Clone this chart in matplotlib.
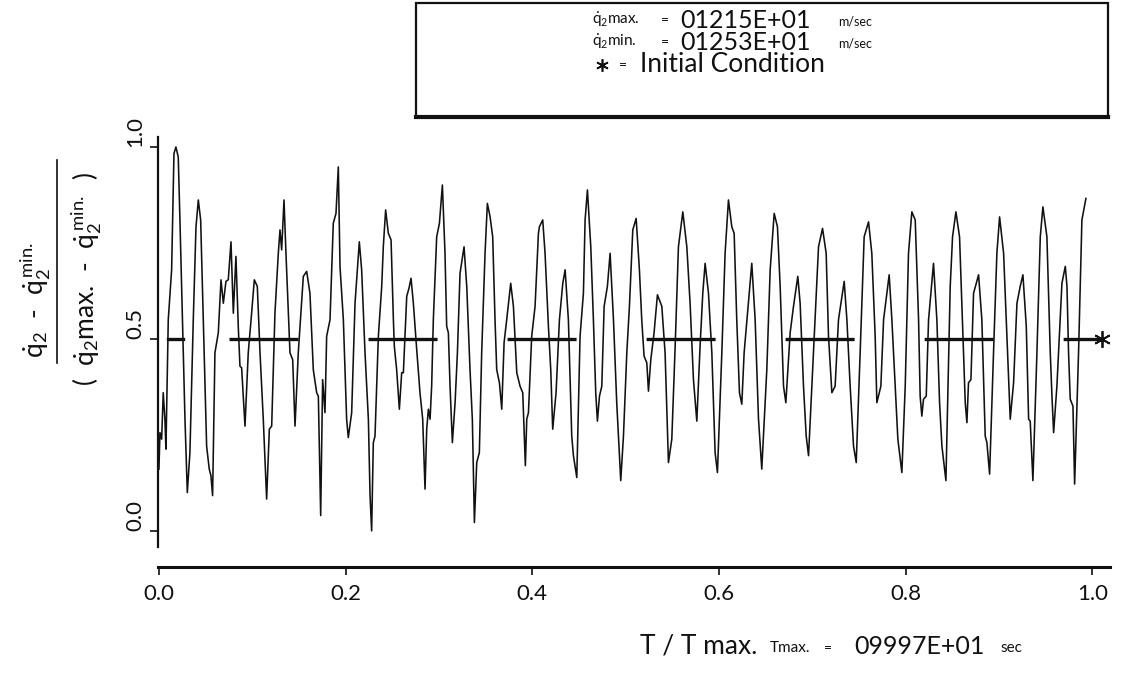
import matplotlib
matplotlib.use("Agg")
import matplotlib.pyplot as plt
from matplotlib.lines import Line2D
from matplotlib.patches import Rectangle

# ---- data: normalised velocity q2dot vs T/Tmax ----
t_norm = [
    0.0000, 0.0011, 0.0029, 0.0046, 0.0064, 0.0075, 0.0082, 0.0100, 0.0136, 0.0161,
    0.0182, 0.0207, 0.0225, 0.0261, 0.0279, 0.0304, 0.0332, 0.0368, 0.0397, 0.0422,
    0.0447, 0.0475, 0.0511, 0.0539, 0.0557, 0.0575, 0.0600, 0.0636, 0.0665, 0.0690,
    0.0718, 0.0743, 0.0772, 0.0797, 0.0825, 0.0850, 0.0868, 0.0886, 0.0922, 0.0957,
    0.0993, 0.1022, 0.1054, 0.1083, 0.1118, 0.1154, 0.1183, 0.1208, 0.1243, 0.1279,
    0.1297, 0.1315, 0.1340, 0.1361, 0.1404, 0.1433, 0.1458, 0.1493, 0.1547, 0.1583,
    0.1618, 0.1654, 0.1690, 0.1708, 0.1733, 0.1754, 0.1779, 0.1797, 0.1833, 0.1868,
    0.1897, 0.1922, 0.1940, 0.1976, 0.2011, 0.2029, 0.2065, 0.2101, 0.2147, 0.2172,
    0.2208, 0.2244, 0.2262, 0.2279, 0.2297, 0.2315, 0.2351, 0.2387, 0.2404, 0.2429,
    0.2458, 0.2487, 0.2512, 0.2522, 0.2547, 0.2576, 0.2601, 0.2619, 0.2655, 0.2680,
    0.2701, 0.2726, 0.2762, 0.2797, 0.2826, 0.2851, 0.2869, 0.2887, 0.2905, 0.2922,
    0.2940, 0.2976, 0.3005, 0.3037, 0.3065, 0.3083, 0.3101, 0.3119, 0.3144, 0.3173,
    0.3198, 0.3226, 0.3269, 0.3298, 0.3333, 0.3358, 0.3380, 0.3405, 0.3433, 0.3458,
    0.3494, 0.3519, 0.3548, 0.3576, 0.3601, 0.3619, 0.3648, 0.3673, 0.3698, 0.3726,
    0.3769, 0.3798, 0.3834, 0.3869, 0.3898, 0.3926, 0.3941, 0.3959, 0.3994, 0.4030,
    0.4066, 0.4076, 0.4112, 0.4137, 0.4173, 0.4198, 0.4219, 0.4255, 0.4291, 0.4327,
    0.4352, 0.4387, 0.4423, 0.4441, 0.4477, 0.4512, 0.4548, 0.4566, 0.4591, 0.4627,
    0.4655, 0.4680, 0.4698, 0.4720, 0.4745, 0.4770, 0.4805, 0.4834, 0.4870, 0.4905,
    0.4948, 0.4977, 0.5013, 0.5041, 0.5077, 0.5113, 0.5148, 0.5173, 0.5198, 0.5227,
    0.5245, 0.5270, 0.5305, 0.5341, 0.5388, 0.5423, 0.5459, 0.5495, 0.5531, 0.5566,
    0.5613, 0.5656, 0.5691, 0.5727, 0.5763, 0.5798, 0.5827, 0.5852, 0.5888, 0.5924,
    0.5959, 0.5984, 0.6031, 0.6066, 0.6102, 0.6138, 0.6163, 0.6191, 0.6220, 0.6245,
    0.6270, 0.6306, 0.6352, 0.6388, 0.6424, 0.6459, 0.6513, 0.6549, 0.6592, 0.6627,
    0.6656, 0.6692, 0.6717, 0.6763, 0.6799, 0.6845, 0.6870, 0.6906, 0.6935, 0.6960,
    0.7013, 0.7067, 0.7110, 0.7149, 0.7174, 0.7210, 0.7245, 0.7281, 0.7342, 0.7371,
    0.7406, 0.7442, 0.7471, 0.7513, 0.7556, 0.7603, 0.7638, 0.7674, 0.7692, 0.7735,
    0.7764, 0.7824, 0.7853, 0.7889, 0.7917, 0.7960, 0.7996, 0.8031, 0.8067, 0.8103,
    0.8139, 0.8156, 0.8174, 0.8192, 0.8221, 0.8246, 0.8299, 0.8335, 0.8364, 0.8389,
    0.8432, 0.8478, 0.8503, 0.8539, 0.8578, 0.8614, 0.8639, 0.8657, 0.8674, 0.8700,
    0.8728, 0.8757, 0.8782, 0.8817, 0.8853, 0.8871, 0.8900, 0.8942, 0.8978, 0.9007,
    0.9050, 0.9085, 0.9121, 0.9157, 0.9193, 0.9228, 0.9257, 0.9293, 0.9318, 0.9335,
    0.9364, 0.9407, 0.9443, 0.9471, 0.9514, 0.9550, 0.9568, 0.9586, 0.9621, 0.9675,
    0.9711, 0.9729, 0.9746, 0.9764, 0.9793, 0.9811, 0.9853, 0.9889, 0.9932,
]
q2dot_norm = [
    0.161, 0.256, 0.239, 0.360, 0.291, 0.213, 0.308, 0.550, 0.680, 0.983,
    1.000, 0.974, 0.810, 0.464, 0.291, 0.100, 0.204, 0.550, 0.792, 0.862,
    0.810, 0.550, 0.221, 0.161, 0.144, 0.092, 0.464, 0.516, 0.654, 0.593,
    0.650, 0.654, 0.753, 0.567, 0.715, 0.533, 0.429, 0.425, 0.273, 0.464,
    0.567, 0.654, 0.637, 0.464, 0.291, 0.083, 0.265, 0.273, 0.567, 0.723,
    0.784, 0.732, 0.862, 0.723, 0.464, 0.446, 0.273, 0.464, 0.663, 0.676,
    0.619, 0.420, 0.360, 0.351, 0.040, 0.394, 0.308, 0.507, 0.550, 0.801,
    0.827, 0.948, 0.689, 0.550, 0.291, 0.243, 0.308, 0.593, 0.753, 0.680,
    0.464, 0.291, 0.092, 0.000, 0.230, 0.247, 0.507, 0.637, 0.740, 0.836,
    0.775, 0.758, 0.550, 0.481, 0.420, 0.317, 0.412, 0.412, 0.611, 0.633,
    0.658, 0.593, 0.472, 0.360, 0.291, 0.109, 0.265, 0.317, 0.291, 0.377,
    0.550, 0.766, 0.801, 0.901, 0.723, 0.533, 0.516, 0.377, 0.230, 0.334,
    0.464, 0.671, 0.740, 0.637, 0.420, 0.291, 0.022, 0.178, 0.204, 0.464,
    0.723, 0.853, 0.818, 0.766, 0.550, 0.420, 0.386, 0.317, 0.490, 0.550,
    0.645, 0.585, 0.412, 0.377, 0.360, 0.170, 0.291, 0.308, 0.507, 0.585,
    0.775, 0.792, 0.810, 0.723, 0.533, 0.420, 0.265, 0.360, 0.550, 0.645,
    0.680, 0.550, 0.247, 0.196, 0.139, 0.507, 0.619, 0.810, 0.888, 0.740,
    0.550, 0.360, 0.286, 0.351, 0.377, 0.585, 0.637, 0.723, 0.550, 0.334,
    0.131, 0.247, 0.464, 0.585, 0.784, 0.814, 0.680, 0.550, 0.455, 0.438,
    0.364, 0.446, 0.516, 0.615, 0.585, 0.464, 0.178, 0.239, 0.481, 0.740,
    0.831, 0.740, 0.593, 0.394, 0.286, 0.481, 0.619, 0.697, 0.619, 0.464,
    0.204, 0.152, 0.464, 0.723, 0.862, 0.792, 0.775, 0.550, 0.360, 0.330,
    0.464, 0.567, 0.697, 0.550, 0.291, 0.161, 0.420, 0.680, 0.827, 0.792,
    0.637, 0.377, 0.334, 0.516, 0.585, 0.663, 0.593, 0.377, 0.247, 0.196,
    0.464, 0.740, 0.788, 0.723, 0.507, 0.360, 0.377, 0.550, 0.650, 0.550,
    0.377, 0.221, 0.178, 0.464, 0.766, 0.805, 0.723, 0.507, 0.334, 0.377,
    0.550, 0.667, 0.550, 0.377, 0.239, 0.152, 0.377, 0.723, 0.831, 0.810,
    0.550, 0.351, 0.299, 0.343, 0.351, 0.550, 0.697, 0.550, 0.334, 0.221,
    0.131, 0.637, 0.766, 0.831, 0.766, 0.507, 0.334, 0.282, 0.386, 0.394,
    0.619, 0.645, 0.667, 0.550, 0.247, 0.230, 0.148, 0.464, 0.723, 0.818,
    0.723, 0.507, 0.291, 0.386, 0.593, 0.637, 0.667, 0.533, 0.291, 0.286,
    0.131, 0.464, 0.766, 0.844, 0.766, 0.464, 0.351, 0.256, 0.377, 0.645,
    0.689, 0.637, 0.464, 0.343, 0.325, 0.122, 0.464, 0.810, 0.866,
]

# initial condition (normalised) and the reference level drawn through it
init_t = 1.01
init_v = 0.5
ref_start = 0.0
ref_stub = (0.010, 0.026)

x_ticks = [0.0, 0.2, 0.4, 0.6, 0.8, 1.0]
x_ticklabels = ["0.0", "0.2", "0.4", "0.6", "0.8", "1.0"]
y_ticks = [0.0, 0.5, 1.0]
y_ticklabels = ["0.0", "0.5", "1.0"]

q2max_txt = "01215E+01"
q2min_txt = "01253E+01"
tmax_txt = "09997E+01"

# ---- styling ----
FONT = "Lato"
plt.rcParams["font.family"] = [FONT, "DejaVu Sans"]
plt.rcParams["font.weight"] = "normal"
plt.rcParams["mathtext.fontset"] = "custom"
plt.rcParams["mathtext.rm"] = "Lato"
plt.rcParams["mathtext.it"] = "Lato"
plt.rcParams["lines.scale_dashes"] = False
INK = "#111111"

W, H = 1121, 678
fig = plt.figure(figsize=(W / 100, H / 100), dpi=100)


def fxy(x, y):
    """pixel position (from top-left) -> figure fraction"""
    return x / W, 1 - y / H


ax_left, ax_right, ax_top, ax_bottom = 158, 1110, 137, 567
ax = fig.add_axes([ax_left / W, 1 - ax_bottom / H,
                   (ax_right - ax_left) / W, (ax_bottom - ax_top) / H])
ax.set_xlim(-0.001, 1.019)
ax.set_ylim(-0.094, 1.026)

ax.plot(t_norm, q2dot_norm, color=INK, lw=1.15, solid_joinstyle="round")
ax.plot([ref_start, init_t], [init_v, init_v], color=INK, lw=2.4,
        linestyle=(49.7, (49.7, 50.4)), solid_capstyle="butt")
ax.plot(list(ref_stub), [init_v, init_v], color=INK, lw=2.4)
ax.plot([init_t], [init_v], marker=(6, 2, 0), ms=12, mew=1.3, color=INK,
        clip_on=False)

for side in ("top", "right"):
    ax.spines[side].set_visible(False)
ax.spines["left"].set_bounds(-0.042, 1.026)
ax.spines["left"].set_linewidth(1.6)
ax.spines["bottom"].set_linewidth(2.2)
ax.spines["left"].set_color(INK)
ax.spines["bottom"].set_color(INK)

ax.set_xticks(x_ticks)
ax.set_xticklabels(x_ticklabels, fontsize=16, color=INK)
ax.set_yticks(y_ticks)
ax.set_yticklabels(y_ticklabels, fontsize=16, color=INK, rotation=90,
                   va="bottom")
ax.tick_params(axis="x", direction="out", length=6, width=1.2, pad=6,
               colors=INK)
ax.tick_params(axis="y", direction="out", length=6, width=1.2, pad=3,
               colors=INK)

# ---- y-axis label as a fraction ----
num = r"$\dot{\mathrm{q}}_{2}$  -  $\dot{\mathrm{q}}_{2}^{\,\mathrm{min.}}$"
den = (r"(  $\dot{\mathrm{q}}_{2}$max.  -  "
       r"$\dot{\mathrm{q}}_{2}^{\,\mathrm{min.}}$  )")
fig.text(*fxy(35, 300), num, rotation=90, ha="center", va="center",
         fontsize=19, color=INK)
fig.add_artist(Line2D([fxy(57, 0)[0]] * 2, [fxy(0, 160)[1], fxy(0, 363)[1]],
                      transform=fig.transFigure, color=INK, lw=1.2))
fig.text(*fxy(86, 279), den, rotation=90, ha="center", va="center",
         fontsize=19, color=INK)

# ---- x-axis label ----
fig.text(*fxy(640, 646), "T / T max.", ha="left", va="center",
         fontsize=19, color=INK)
fig.text(*fxy(770, 648), "Tmax.", ha="left", va="center", fontsize=11,
         color=INK)
fig.text(*fxy(824, 648), "=", ha="left", va="center", fontsize=10, color=INK)
fig.text(*fxy(854, 646), tmax_txt, ha="left", va="center", fontsize=18,
         color=INK)
fig.text(*fxy(1000, 648), "sec", ha="left", va="center", fontsize=11,
         color=INK)

# ---- info box ----
fig.add_artist(Rectangle(fxy(416, 117), (1108 - 416) / W, (117 - 3) / H,
                         transform=fig.transFigure, fill=False,
                         edgecolor=INK, lw=1.6))
fig.add_artist(Line2D([416 / W, 1108 / W], [fxy(0, 117)[1]] * 2,
                      transform=fig.transFigure, color=INK, lw=3))

rows = [
    (20, r"$\dot{\mathrm{q}}_{2}$max.", q2max_txt),
    (42, r"$\dot{\mathrm{q}}_{2}$min.", q2min_txt),
]
for y, lab, val in rows:
    fig.text(*fxy(592, y), lab, ha="left", va="center", fontsize=11,
             color=INK)
    fig.text(*fxy(661, y), "=", ha="left", va="center", fontsize=10,
             color=INK)
    fig.text(*fxy(680, y), val, ha="left", va="center", fontsize=18,
             color=INK)
    fig.text(*fxy(838, y + 1), "m/sec", ha="left", va="center", fontsize=9,
             color=INK)

fig.add_artist(Line2D([fxy(602, 0)[0]], [fxy(0, 65)[1]], marker=(6, 2, 0),
                      ms=9, mew=1.2, color=INK, transform=fig.transFigure))
fig.text(*fxy(619, 65), "=", ha="left", va="center", fontsize=10, color=INK)
fig.text(*fxy(640, 64), "Initial Condition", ha="left", va="center",
         fontsize=19, color=INK)

fig.savefig("out.png", dpi=100, facecolor="white")
